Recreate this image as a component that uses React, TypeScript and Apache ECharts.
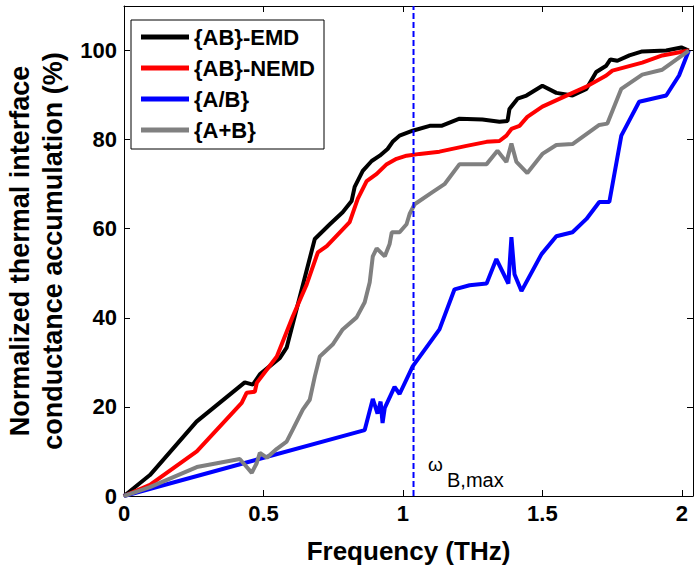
import React, { useEffect, useRef } from "react";
import * as echarts from "echarts";

const FONT = "'Liberation Sans', Arial, Helvetica, sans-serif";

const seriesNames = ["{AB}-EMD", "{AB}-NEMD", "{A/B}", "{A+B}"];
const seriesColors = ["#000000", "#ff0000", "#0000ff", "#808080"];

const emdX = [0, 0.093, 0.26, 0.433, 0.462, 0.487, 0.559, 0.583, 0.684, 0.738, 0.784, 0.816, 0.827, 0.856, 0.888, 0.917, 0.945, 0.963, 0.988, 1.035, 1.096, 1.138, 1.203, 1.285, 1.346, 1.375, 1.382, 1.411, 1.443, 1.5, 1.55, 1.608, 1.658, 1.693, 1.729, 1.744, 1.769, 1.812, 1.858, 1.944, 1.998, 2.025];
const emdY = [0, 4.7, 16.7, 25.5, 25.0, 27.3, 31, 33.3, 57.7, 61, 63.7, 66.2, 69.4, 73, 75.2, 76.4, 77.9, 79.5, 80.9, 82, 83.1, 83.1, 84.7, 84.5, 84, 84.2, 86.9, 89.2, 89.9, 92.1, 90.5, 89.9, 91.4, 95.2, 96.6, 98, 97.7, 98.9, 99.8, 100, 100.7, 100];

const nemdX = [0, 0.093, 0.261, 0.422, 0.44, 0.469, 0.476, 0.548, 0.605, 0.655, 0.695, 0.727, 0.809, 0.838, 0.87, 0.906, 0.942, 0.977, 1.013, 1.06, 1.131, 1.228, 1.3, 1.346, 1.371, 1.389, 1.418, 1.446, 1.5, 1.608, 1.658, 1.729, 1.751, 1.858, 1.93, 2.025];
const nemdY = [0, 2.5, 10, 20.9, 23.2, 23.4, 25.4, 31.3, 40.3, 47.5, 54.7, 56.1, 61.5, 66.7, 70.7, 72.3, 74.5, 75.7, 76.4, 76.8, 77.3, 78.6, 79.5, 79.7, 80.9, 82.4, 83.1, 85.1, 87.4, 90.5, 91.9, 94.4, 95.5, 97.3, 98.9, 100];

const abX = [0, 0.863, 0.892, 0.909, 0.92, 0.927, 0.935, 0.97, 0.988, 1.035, 1.131, 1.185, 1.239, 1.3, 1.335, 1.378, 1.389, 1.4, 1.425, 1.497, 1.55, 1.608, 1.658, 1.704, 1.74, 1.783, 1.847, 1.944, 1.99, 2.025];
const abY = [0, 14.8, 21.8, 18.5, 21.2, 16.4, 19.8, 24.5, 22.9, 29.1, 37.4, 46.4, 47.3, 47.7, 53.2, 47.7, 58.1, 49.8, 46, 54.3, 58.3, 59.2, 62.2, 66, 66, 80.9, 88.5, 89.9, 94.4, 100];

const apbX = [0, 0.093, 0.261, 0.415, 0.44, 0.458, 0.476, 0.487, 0.512, 0.548, 0.583, 0.605, 0.641, 0.666, 0.684, 0.702, 0.748, 0.784, 0.834, 0.863, 0.881, 0.892, 0.906, 0.935, 0.952, 0.96, 0.988, 1.013, 1.024, 1.042, 1.106, 1.149, 1.203, 1.3, 1.339, 1.371, 1.389, 1.407, 1.446, 1.5, 1.55, 1.608, 1.704, 1.733, 1.783, 1.858, 1.93, 2.025];
const apbY = [0, 2, 6.5, 8.3, 6.5, 5.2, 7.4, 9.7, 8.6, 10.6, 12.2, 14.9, 19.4, 21.6, 26.8, 31.3, 34, 37.4, 40.1, 43.5, 48, 53.8, 55.6, 53.8, 56.5, 59.2, 59.2, 61, 63.3, 65.5, 68.2, 70, 74.5, 74.5, 77.5, 75, 79.1, 75, 72.5, 76.8, 78.8, 79, 83.3, 83.6, 91.4, 94.6, 95.7, 100];

const omegaBMax = 1.038;
const xTickLabels = ["0", "0.5", "1", "1.5", "2"];
const yTickLabels = ["0", "20", "40", "60", "80", "100"];

const X_MIN = 0, X_MAX = 2.04, X_INT = 0.5;
const Y_MIN = 0, Y_MAX = 110, Y_INT = 20;

const pairs = (xs: number[], ys: number[]) => xs.map((x, i) => [x, ys[i]]);

export default function App() {
  const ref = useRef<HTMLDivElement>(null);
  useEffect(() => {
    if (!ref.current) return;
    const chart = echarts.init(ref.current, undefined, { renderer: "svg" });
    const xFmt = (v: number) => {
      const i = Math.round(v / X_INT);
      return Math.abs(i * X_INT - v) < 1e-6 && i < xTickLabels.length ? xTickLabels[i] : "";
    };
    const yFmt = (v: number) => {
      const i = Math.round(v / Y_INT);
      return Math.abs(i * Y_INT - v) < 1e-6 && i < yTickLabels.length ? yTickLabels[i] : "";
    };
    const axisLine = { show: true, onZero: false, lineStyle: { color: "#000", width: 1 } };
    const axisTick = { show: true, inside: true, length: 6, lineStyle: { color: "#000", width: 1 } };
    const labelStyle = { color: "#000", fontSize: 22, fontWeight: "bold", fontFamily: FONT };
    const dataList = [pairs(emdX, emdY), pairs(nemdX, nemdY), pairs(abX, abY), pairs(apbX, apbY)];
    const option: any = {
      animation: false,
      backgroundColor: "#fff",
      grid: { left: 124, top: 6, width: 569, height: 490, containLabel: false, outerBoundsMode: "none" },
      xAxis: [
        {
          type: "value", min: X_MIN, max: X_MAX, interval: X_INT, position: "bottom",
          axisLine, axisTick, splitLine: { show: false },
          axisLabel: { ...labelStyle, margin: 6, showMaxLabel: false, formatter: xFmt },
          name: "Frequency (THz)", nameLocation: "middle", nameGap: 42,
          nameTextStyle: { color: "#000", fontSize: 26, fontWeight: "bold", fontFamily: FONT },
        },
        {
          type: "value", min: X_MIN, max: X_MAX, interval: X_INT, position: "top",
          axisLine, axisTick, splitLine: { show: false }, axisLabel: { show: false },
        },
      ],
      yAxis: [
        {
          type: "value", min: Y_MIN, max: Y_MAX, interval: Y_INT, position: "left",
          axisLine, axisTick, splitLine: { show: false },
          axisLabel: { ...labelStyle, margin: 7, showMaxLabel: false, formatter: yFmt },
          name: "Normalized thermal interface\nconductance accumulation (%)",
          nameLocation: "middle", nameGap: 52, nameRotate: 90,
          nameTextStyle: { color: "#000", fontSize: 27, fontWeight: "bold", fontFamily: FONT, lineHeight: 33 },
        },
        {
          type: "value", min: Y_MIN, max: Y_MAX, interval: Y_INT, position: "right",
          axisLine, axisTick, splitLine: { show: false }, axisLabel: { show: false },
        },
      ],
      legend: {
        orient: "vertical", left: 131, top: 20,
        itemWidth: 48, itemHeight: 5, itemGap: 9, padding: [6, 9, 8, 10],
        borderColor: "#000", borderWidth: 1, borderRadius: 0, backgroundColor: "#fff",
        icon: "rect",
        textStyle: { color: "#000", fontSize: 22, fontWeight: "bold", fontFamily: FONT },
        data: seriesNames,
      },
      series: [
        ...seriesNames.map((name, i) => ({
          name, type: "line", xAxisIndex: 0, yAxisIndex: 0,
          data: dataList[i], showSymbol: false, symbol: "none",
          lineStyle: { color: seriesColors[i], width: 4 },
          itemStyle: { color: seriesColors[i] },
          z: 2 + i,
        })),
        {
          name: "omegaBmax", type: "line", xAxisIndex: 0, yAxisIndex: 0,
          data: [[omegaBMax, Y_MIN], [omegaBMax, Y_MAX]],
          showSymbol: false, symbol: "none", silent: true,
          lineStyle: { color: "#0000ff", width: 2, type: [6, 3] },
          z: 10,
        },
      ],
      graphic: [
        { type: "text", left: 428, top: 455, style: { text: "ω", fontSize: 19, fontFamily: FONT, fill: "#000" }, z: 20 },
        { type: "text", left: 447, top: 470, style: { text: "B,max", fontSize: 20, fontFamily: FONT, fill: "#000" }, z: 20 },
      ],
    };
    chart.setOption(option);
    return () => chart.dispose();
  }, []);
  return (
    <div
      ref={ref}
      style={{ position: "absolute", left: 0, top: 0, width: 694, height: 565, background: "#fff" }}
    />
  );
}
